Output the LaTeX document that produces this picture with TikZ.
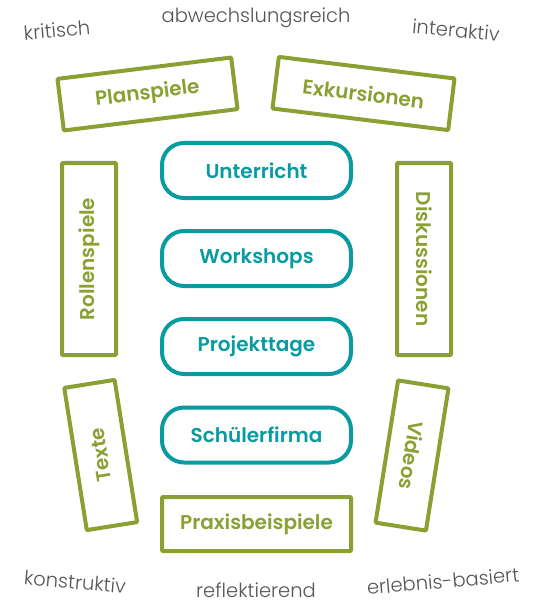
\documentclass[tikz,border=0pt]{standalone}
\usepackage{fontspec}
\setmainfont{Lato}
\newfontfamily\lightfont{Poppins Light}
\newfontfamily\boxfont{Poppins SemiBold}
\definecolor{olive}{RGB}{138,160,50}
\definecolor{tealc}{RGB}{10,155,160}
\definecolor{txtgray}{RGB}{85,85,85}
\begin{document}
\begin{tikzpicture}[x=1pt,y=-1pt,
  gbox/.style={draw=olive,line width=4pt,text=olive,font=\boxfont\fontsize{20}{24}\selectfont,inner sep=0pt,rounded corners=1pt},
  tbox/.style={draw=tealc,line width=4pt,text=tealc,font=\boxfont\fontsize{20}{24}\selectfont,inner sep=0pt,rounded corners=22pt,minimum width=189pt,minimum height=55pt},
  word/.style={text=txtgray,font=\lightfont\fontsize{19.5}{23}\selectfont,inner sep=0pt}]
\useasboundingbox (0,0) rectangle (544,604);
% teal
\node[tbox] (unt) at (256.5,170.5) {Unterricht};
\node[tbox] (work) at (256.5,258.5) {Workshops};
\node[tbox] (proj) at (256.5,346.5) {Projekttage};
\node[tbox] (schu) at (256.5,435) {Schülerfirma};
% green
\node[gbox,minimum width=189pt,minimum height=54pt] (prax) at (256.5,524) {Praxisbeispiele};
\node[gbox,rotate=90,minimum width=192pt,minimum height=54pt] (roll) at (89,259) {Rollenspiele};
\node[gbox,rotate=-90,minimum width=192pt,minimum height=54pt] (disk) at (424,259) {Diskussionen};
\node[gbox,rotate=7,minimum width=175pt,minimum height=52pt] (plan) at (147.5,94) {Planspiele};
\node[gbox,rotate=-7,minimum width=177pt,minimum height=52pt] (exk) at (363.5,93.5) {Exkursionen};
\node[gbox,rotate=99,minimum width=144pt,minimum height=51pt] (tex) at (100.7,455) {Texte};
\node[gbox,rotate=-99,minimum width=144pt,minimum height=51pt] (vid) at (412,455.5) {Videos};
% words
\node[word,rotate=5] (krit) at (57,30) {kritisch};
\node[word] (abw) at (256,18) {abwechslungsreich};
\node[word,rotate=-5] (inter) at (456,30) {interaktiv};
\node[word,rotate=-5] (kons) at (75,582) {konstruktiv};
\node[word] (refl) at (256,590) {reflektierend};
\node[word,rotate=5] (erl) at (443,581) {erlebnis-basiert};
\end{tikzpicture}
\end{document}
